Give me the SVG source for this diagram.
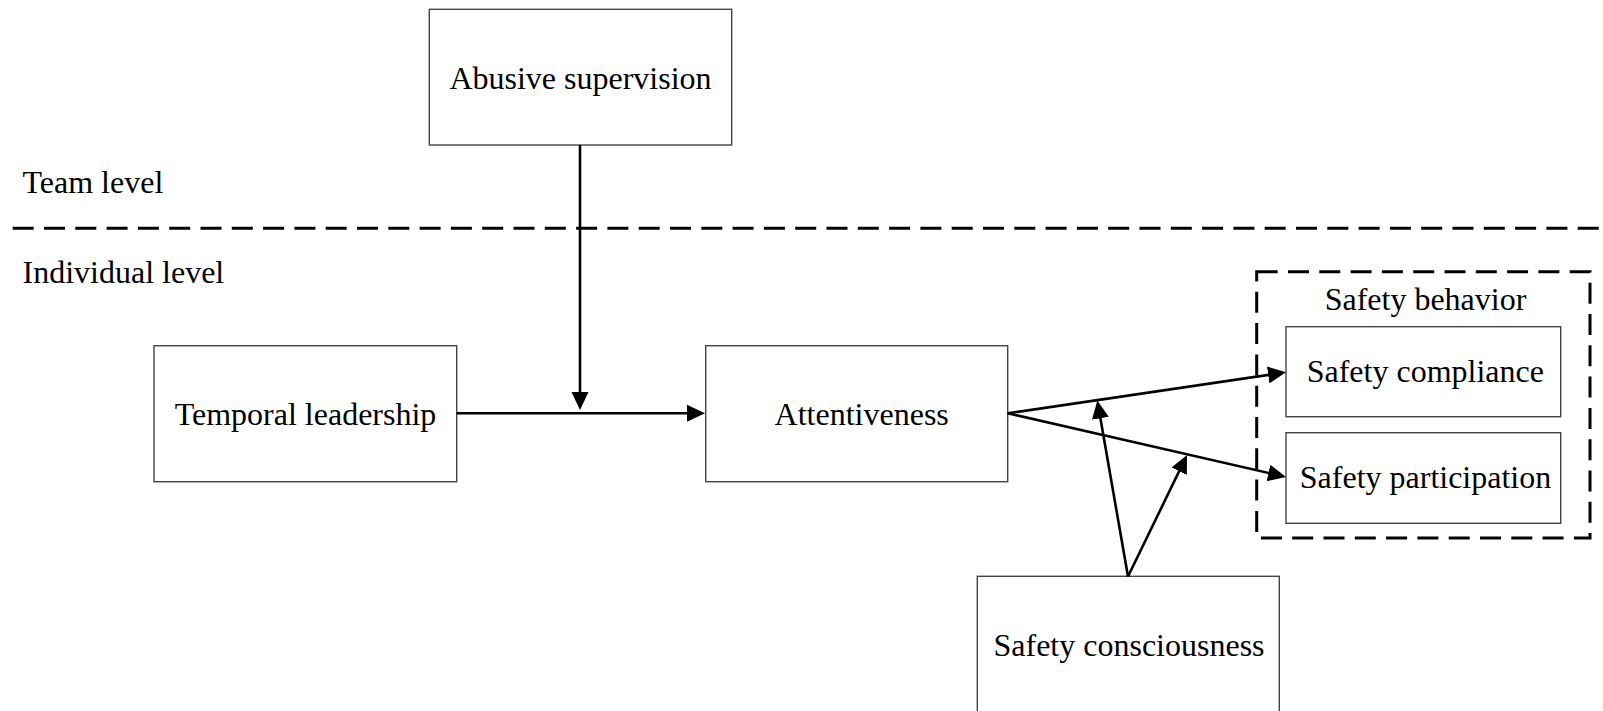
<svg xmlns="http://www.w3.org/2000/svg" width="1603" height="711" viewBox="0 0 1603 711">
<style>
.box{fill:#fff;stroke:#444;stroke-width:1.4}
.t{font-family:"Liberation Serif","Times New Roman",serif;font-size:32px;fill:#000}
.c{text-anchor:middle}
.con{stroke:#000;stroke-width:2.6;fill:none}
.dash{stroke:#000;stroke-width:3;fill:none;stroke-dasharray:21 10.3}
</style>
<defs>
<marker id="ah" markerUnits="userSpaceOnUse" viewBox="0 -9 18 18" refX="4" refY="0" markerWidth="18" markerHeight="18" orient="auto">
<path d="M0,-8.5 L18,0 L0,8.5 z" fill="#000"/>
</marker>
</defs>
<rect width="1603" height="711" fill="#fff"/>
<g id="levels">
<text class="t" x="22.5" y="193">Team level</text>
<line class="dash" x1="12.7" y1="228.3" x2="1603" y2="228.3"/>
<text class="t" x="22.5" y="283">Individual level</text>
</g>
<g id="abusive-supervision">
<rect class="box" x="429.3" y="9.3" width="302.4" height="135.7"/>
<text class="t c" x="580.5" y="88.5">Abusive supervision</text>
</g>
<g id="temporal-leadership">
<rect class="box" x="154" y="345.7" width="302.7" height="136"/>
<text class="t c" x="305.5" y="425">Temporal leadership</text>
</g>
<g id="attentiveness">
<rect class="box" x="705.7" y="345.7" width="302" height="136"/>
<text class="t c" x="861.7" y="425">Attentiveness</text>
</g>
<g id="safety-behavior">
<rect class="dash" x="1256.7" y="271.7" width="333.3" height="266.3"/>
<text class="t c" x="1425.5" y="310">Safety behavior</text>
</g>
<g id="safety-compliance">
<rect class="box" x="1286" y="326.7" width="274.7" height="90"/>
<text class="t c" x="1425.3" y="381.7">Safety compliance</text>
</g>
<g id="safety-participation">
<rect class="box" x="1286" y="432.7" width="274.7" height="90.6"/>
<text class="t c" x="1425.5" y="487.7">Safety participation</text>
</g>
<g id="safety-consciousness">
<rect class="box" x="977.3" y="576.3" width="302" height="140"/>
<text class="t c" x="1129" y="655.5">Safety consciousness</text>
</g>
<g id="connectors">
<line class="con" x1="580" y1="145" x2="580" y2="396" marker-end="url(#ah)"/>
<line class="con" x1="456.7" y1="413.3" x2="691" y2="413.3" marker-end="url(#ah)"/>
<line class="con" x1="1007.7" y1="413.3" x2="1272.15" y2="374.34" marker-end="url(#ah)"/>
<line class="con" x1="1007.7" y1="413.3" x2="1272.35" y2="473.87" marker-end="url(#ah)"/>
<line class="con" x1="1128" y1="576.5" x2="1099.7" y2="414.3" marker-end="url(#ah)"/>
<line class="con" x1="1128" y1="576.5" x2="1180.9" y2="467.6" marker-end="url(#ah)"/>
</g>
</svg>
